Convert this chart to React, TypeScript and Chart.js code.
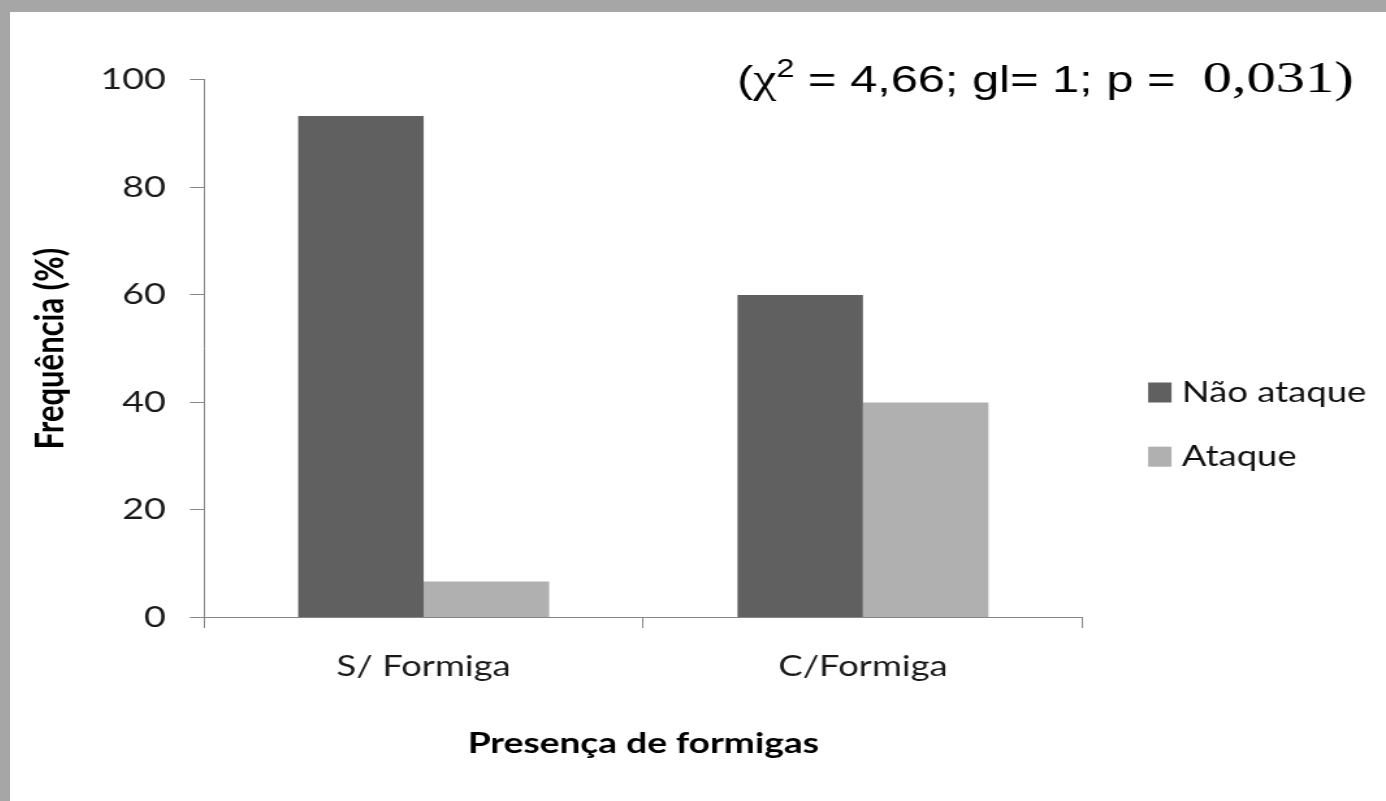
import { useEffect, useRef } from "react";
import { Chart, registerables } from "chart.js";

Chart.register(...registerables);

// ---- data ----
const categories = ["S/ Formiga", "C/Formiga"];
const seriesLabels = ["Não ataque", "Ataque"];
const naoAtaque = [93.3, 60];
const ataque = [6.7, 40];
const yTickValues = [0, 20, 40, 60, 80, 100];
const yTitle = "Frequência (%)";
const xTitle = "Presença de formigas";
const annotationParts = [
  { text: "(", kind: "sans" },
  { text: "χ", kind: "greek" },
  { text: "2", kind: "sup" },
  { text: " = 4,66; gl= 1; p =  ", kind: "sans" },
  { text: "0,031)", kind: "serif" },
];

// ---- render geometry (canvas is drawn narrow, then stretched horizontally like the original) ----
const CANVAS_W = 1058;
const CANVAS_H = 789;
const DISPLAY_W = 1376;
const FONT = "Lato";

export default function App() {
  const ref = useRef<HTMLCanvasElement>(null);

  useEffect(() => {
    const canvas = ref.current;
    if (!canvas) return;

    const sideLegend = {
      id: "sideLegend",
      afterDraw(chart: any) {
        const { ctx, chartArea } = chart;
        ctx.save();
        chart.data.datasets.forEach((ds: any, i: number) => {
          const x = chartArea.right + 50.4;
          const cy = 380.5 + i * 64.2;
          ctx.fillStyle = ds.backgroundColor;
          ctx.fillRect(x, cy - 10, 18, 20);
          ctx.fillStyle = "#111111";
          ctx.font = `28px ${FONT}`;
          ctx.textBaseline = "middle";
          ctx.textAlign = "left";
          ctx.fillText(ds.label, x + 26, cy);
        });
        ctx.restore();
      },
    };

    const statsNote = {
      id: "statsNote",
      afterDraw(chart: any) {
        const ctx = chart.ctx;
        ctx.save();
        ctx.fillStyle = "#000000";
        ctx.textBaseline = "alphabetic";
        ctx.textAlign = "left";
        let x = 559;
        const base = 80;
        for (const p of annotationParts) {
          let y = base;
          if (p.kind === "sans") ctx.font = `37.5px "Liberation Sans"`;
          else if (p.kind === "serif") ctx.font = `45px "Liberation Serif"`;
          else if (p.kind === "greek") ctx.font = `40px "Liberation Serif"`;
          else {
            ctx.font = `25px "Liberation Sans"`;
            y = base - 15;
          }
          ctx.fillText(p.text, x, y);
          x += ctx.measureText(p.text).width;
        }
        ctx.restore();
      },
    };

    const chart = new Chart(canvas, {
      type: "bar",
      data: {
        labels: categories,
        datasets: [
          {
            label: seriesLabels[0],
            data: naoAtaque,
            backgroundColor: "#606060",
            borderWidth: 0,
            categoryPercentage: 0.5714,
            barPercentage: 1,
          },
          {
            label: seriesLabels[1],
            data: ataque,
            backgroundColor: "#b0b0b0",
            borderWidth: 0,
            categoryPercentage: 0.5714,
            barPercentage: 1,
          },
        ],
      },
      options: {
        animation: false,
        responsive: false,
        devicePixelRatio: 1,
        layout: { padding: { left: 0, top: 67.9, right: 233.3, bottom: 40.5 } },
        plugins: {
          legend: { display: false },
          tooltip: { enabled: false },
          title: { display: false },
        },
        scales: {
          x: {
            grid: {
              display: true,
              drawOnChartArea: false,
              drawTicks: true,
              tickLength: 10.6,
              color: "#868686",
              offset: true,
            },
            border: { display: true, color: "#868686", width: 1 },
            ticks: {
              font: { family: FONT, size: 28 },
              color: "#1a1a1a",
              padding: 22,
              maxRotation: 0,
            },
            title: {
              display: true,
              text: xTitle,
              font: { family: FONT, size: 28.5, weight: "bold" },
              color: "#000000",
              padding: { top: 20.7, bottom: 0 },
            },
          },
          y: {
            min: yTickValues[0],
            max: yTickValues[yTickValues.length - 1],
            afterBuildTicks: (scale: any) => {
              scale.ticks = yTickValues.map((v) => ({ value: v }));
            },
            afterFit: (scale: any) => {
              scale.width = 149.2;
            },
            grid: {
              display: true,
              drawOnChartArea: false,
              drawTicks: true,
              tickLength: 10.8,
              color: "#868686",
            },
            border: { display: true, color: "#868686", width: 1 },
            ticks: {
              font: { family: FONT, size: 29 },
              color: "#1a1a1a",
              padding: 18.5,
            },
            title: {
              display: true,
              text: yTitle,
              font: { family: FONT, size: 31, weight: "bold" },
              color: "#000000",
              padding: { top: 12.2, bottom: 0 },
            },
          },
        },
      },
      plugins: [sideLegend, statsNote],
    });

    return () => chart.destroy();
  }, []);

  return (
    <div style={{ position: "fixed", inset: 0, background: "#a6a6a6" }}>
      <div
        style={{
          position: "absolute",
          left: 10,
          top: 12,
          right: 0,
          bottom: 0,
          background: "#ffffff",
          overflow: "hidden",
        }}
      >
        <canvas
          ref={ref}
          width={CANVAS_W}
          height={CANVAS_H}
          style={{ display: "block", width: `${DISPLAY_W}px`, height: `${CANVAS_H}px` }}
        />
      </div>
    </div>
  );
}
